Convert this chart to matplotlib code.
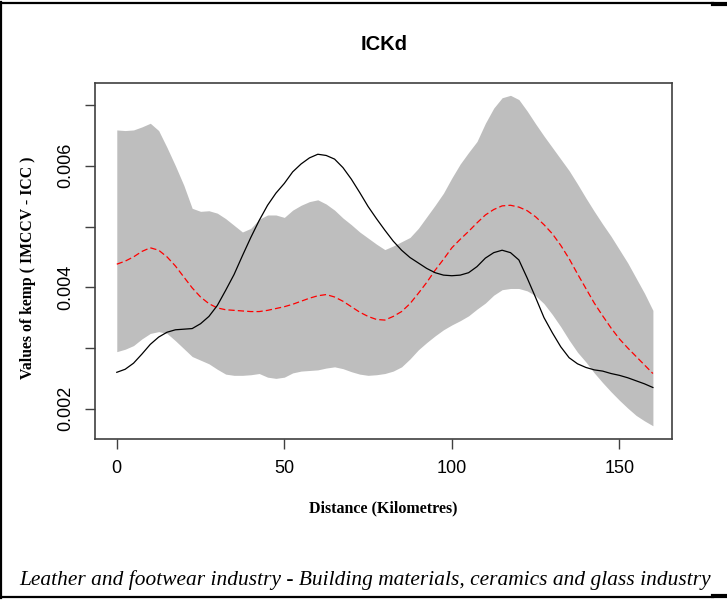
import matplotlib
matplotlib.use("Agg")
import matplotlib.pyplot as plt
import numpy as np
from matplotlib.lines import Line2D

# distance grid (km), every 2.5 km, and the curves
dist = np.arange(0, 162.5, 2.5)

upper = [0.00659, 0.00658, 0.00659, 0.00664, 0.00670, 0.00658, 0.00630, 0.00600, 0.00568,
         0.00530, 0.00525, 0.00526, 0.00522, 0.00513, 0.00502, 0.00491, 0.00497, 0.00512,
         0.00519, 0.00519, 0.00515, 0.00527, 0.00535, 0.00541, 0.00544, 0.00537, 0.00527,
         0.00514, 0.00503, 0.00491, 0.00481, 0.00471, 0.00462, 0.00468, 0.00475, 0.00482,
         0.00497, 0.00516, 0.00535, 0.00555, 0.00580, 0.00603, 0.00622, 0.00640, 0.00670,
         0.00695, 0.00712, 0.00716, 0.00709, 0.00690, 0.00669, 0.00649, 0.00630, 0.00611,
         0.00592, 0.00570, 0.00547, 0.00525, 0.00504, 0.00484, 0.00462, 0.00440, 0.00415,
         0.00390, 0.00362]

lower = [0.00294, 0.00298, 0.00304, 0.00315, 0.00324, 0.00327, 0.00324, 0.00312, 0.00299,
         0.00286, 0.00280, 0.00274, 0.00265, 0.00257, 0.00255, 0.00255, 0.00256, 0.00258,
         0.00252, 0.00250, 0.00252, 0.00259, 0.00262, 0.00263, 0.00264, 0.00267, 0.00269,
         0.00266, 0.00261, 0.00257, 0.00255, 0.00256, 0.00258, 0.00262, 0.00269, 0.00282,
         0.00297, 0.00309, 0.00320, 0.00330, 0.00338, 0.00345, 0.00353, 0.00364, 0.00374,
         0.00387, 0.00396, 0.00398, 0.00398, 0.00394, 0.00386, 0.00373, 0.00355, 0.00335,
         0.00313, 0.00293, 0.00277, 0.00259, 0.00243, 0.00228, 0.00214, 0.00201, 0.00189,
         0.00180, 0.00172]

mean_k = [0.00438, 0.00443, 0.00450, 0.00459, 0.00465, 0.00461, 0.00450, 0.00435, 0.00417,
          0.00399, 0.00384, 0.00373, 0.00366, 0.00363, 0.00362, 0.00361, 0.00360, 0.00360,
          0.00362, 0.00365, 0.00368, 0.00372, 0.00377, 0.00382, 0.00386, 0.00388, 0.00384,
          0.00377, 0.00368, 0.00359, 0.00352, 0.00347, 0.00346, 0.00352, 0.00360, 0.00373,
          0.00390, 0.00408, 0.00428, 0.00446, 0.00465, 0.00479, 0.00492, 0.00506, 0.00519,
          0.00528, 0.00534, 0.00535, 0.00532, 0.00526, 0.00516, 0.00503, 0.00488, 0.00469,
          0.00447, 0.00422, 0.00398, 0.00374, 0.00353, 0.00333, 0.00315, 0.00300, 0.00286,
          0.00272, 0.00258]

obs_k = [0.00260, 0.00265, 0.00275, 0.00290, 0.00306, 0.00318, 0.00326, 0.00330, 0.00331,
         0.00332, 0.00340, 0.00352, 0.00370, 0.00395, 0.00421, 0.00452, 0.00482, 0.00510,
         0.00535, 0.00555, 0.00571, 0.00590, 0.00603, 0.00613, 0.00619, 0.00617, 0.00611,
         0.00597, 0.00578, 0.00556, 0.00533, 0.00513, 0.00494, 0.00476, 0.00461, 0.00449,
         0.00440, 0.00431, 0.00424, 0.00420, 0.00419, 0.00420, 0.00424, 0.00434, 0.00448,
         0.00457, 0.00461, 0.00457, 0.00445, 0.00415, 0.00383, 0.00350, 0.00325, 0.00302,
         0.00284, 0.00274, 0.00268, 0.00264, 0.00262, 0.00258, 0.00255, 0.00251, 0.00246,
         0.00241, 0.00235]

x_ticks = [0, 50, 100, 150]
y_ticks = [0.002, 0.003, 0.004, 0.005, 0.006, 0.007]
y_tick_labels = ["0.002", "", "0.004", "", "0.006", ""]

W, H = 727, 600
fig = plt.figure(figsize=(W / 100, H / 100), dpi=100)
fig.patch.set_facecolor("white")

ax = fig.add_axes([95 / W, (H - 439) / H, (672 - 95) / W, (439 - 83) / H])

# envelope, mean and observed curves
ax.fill_between(dist, lower, upper, color="#bebebe", lw=0)
ax.plot(dist, mean_k, color="red", lw=0.9, dashes=(5, 2.5))
ax.plot(dist, obs_k, color="black", lw=0.9)

ax.set_xlim(-6.5, 165.7)
ax.set_ylim(0.001502, 0.007363)

ax.set_xticks(x_ticks)
ax.set_xticklabels([str(t) for t in x_ticks])
ax.set_yticks(y_ticks)
ax.set_yticklabels(y_tick_labels, rotation=90, va="center")

for s in ax.spines.values():
    s.set_color("#404040")
    s.set_linewidth(1.2)
ax.tick_params(length=7, width=1, color="#404040", labelsize=13, pad=8)
for lab in ax.get_xticklabels() + ax.get_yticklabels():
    lab.set_family("Liberation Sans")

fig.text(384 / W, 1 - 45 / H, "ICKd", ha="center", va="center",
         fontsize=14.5, fontweight="bold", family="Liberation Sans")
fig.text(28 / W, 1 - 268 / H, "Values of kemp ( IMCCV - ICC )", rotation=90,
         ha="center", va="center", fontsize=11.3, fontweight="bold", family="Liberation Serif")
fig.text(383 / W, 1 - 508 / H, "Distance (Kilometres)", ha="center", va="center",
         fontsize=11.5, fontweight="bold", family="Liberation Serif")
fig.text(365 / W, 1 - 580 / H,
         "Leather and footwear industry - Building materials, ceramics and glass industry",
         ha="center", va="center", fontsize=15.4, style="italic", family="Liberation Serif")

# outer frame of the original figure
fig.add_artist(Line2D([0, 713 / W], [1 - 2.5 / H] * 2, color="black", lw=1.6))
fig.add_artist(Line2D([713 / W, 1], [1 - 3.5 / H] * 2, color="black", lw=3))
fig.add_artist(Line2D([0, 713 / W], [1 - 597 / H] * 2, color="black", lw=1.6))
fig.add_artist(Line2D([713 / W, 1], [1 - 596 / H] * 2, color="black", lw=3))
fig.add_artist(Line2D([1.5 / W] * 2, [1 - 2 / H, 1 - 598 / H], color="black", lw=1.6))

fig.savefig("out.png", dpi=100)
